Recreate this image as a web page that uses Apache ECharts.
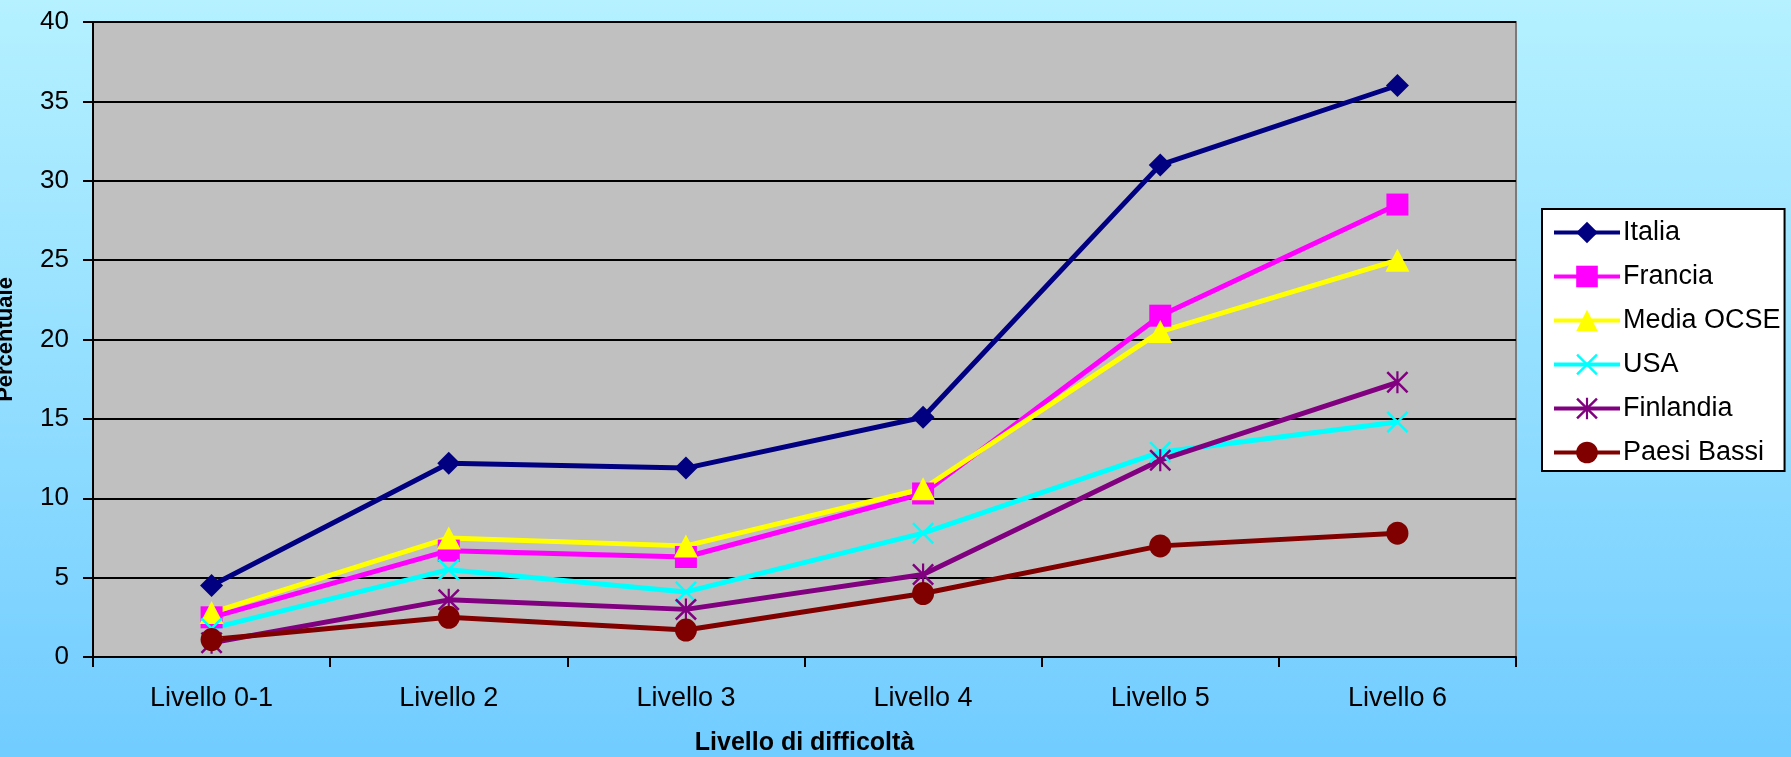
<!DOCTYPE html>
<html>
<head>
<meta charset="utf-8">
<title>Livello di difficoltà</title>
<script src="https://cdn.jsdelivr.net/npm/echarts@6/dist/echarts.min.js"></script>
<style>
  html, body { margin: 0; padding: 0; }
  #chart { width: 1791px; height: 757px; }
</style>
</head>
<body>
<div id="chart"></div>
<script>
// Categories on the x axis
const livelli = ['Livello 0-1', 'Livello 2', 'Livello 3', 'Livello 4', 'Livello 5', 'Livello 6'];

// Percentages per country
const italia      = [4.5, 12.2, 11.9, 15.1, 31.0, 36.0];
const francia     = [2.5, 6.7, 6.3, 10.3, 21.5, 28.5];
const mediaOcse   = [2.8, 7.5, 7.0, 10.6, 20.5, 25.0];
const usa         = [1.8, 5.5, 4.1, 7.8, 12.9, 14.8];
const finlandia   = [0.9, 3.6, 3.0, 5.2, 12.4, 17.3];
const paesiBassi  = [1.1, 2.5, 1.7, 4.0, 7.0, 7.8];

// Y axis range
const yMin = 0, yMax = 40, yStep = 5;

// Marker shapes: thin X and six-armed asterisk
const xPath = 'path://M0,8 L8,0 L50,42 L92,0 L100,8 L58,50 L100,92 L92,100 L50,58 L8,100 L0,92 L42,50 Z';
const starPath = 'path://M0,8 L8,0 L50,42 L92,0 L100,8 L58,50 L100,92 L92,100 L50,58 L8,100 L0,92 L42,50 Z ' +
                 'M45,0 L55,0 L55,100 L45,100 Z';

const FONT = '"Liberation Sans", Arial, sans-serif';

function makeSeries(name, data, color, symbol, size) {
  return {
    name: name,
    type: 'line',
    data: data,
    symbol: symbol,
    symbolSize: size,
    showAllSymbol: true,
    lineStyle: { color: color, width: 5 },
    itemStyle: { color: color, opacity: 1 },
    emphasis: { disabled: true },
    animation: false,
    z: 3
  };
}

const chart = echarts.init(document.getElementById('chart'), null, { renderer: 'canvas' });

chart.setOption({
  animation: false,
  backgroundColor: {
    type: 'linear', x: 0, y: 0, x2: 0, y2: 1,
    colorStops: [
      { offset: 0, color: '#B5F1FF' },
      { offset: 1, color: '#71CCFF' }
    ]
  },
  grid: {
    left: 93, top: 22, right: 275, bottom: 100,
    outerBoundsMode: 'none',
    containLabel: false,
    show: true,
    backgroundColor: '#C0C0C0',
    borderColor: '#7A7A7A',
    borderWidth: 2
  },
  legend: {
    orient: 'vertical',
    left: 1542,
    top: 209,
    backgroundColor: '#FFFFFF',
    borderColor: '#000000',
    borderWidth: 2,
    borderRadius: 0,
    padding: [10, 4, 5, 10],
    itemWidth: 66,
    itemHeight: 27,
    itemGap: 17,
    lineStyle: { width: 4 },
    textStyle: { fontFamily: FONT, fontSize: 27, color: '#000000', padding: [0, 0, 0, -2] },
    data: ['Italia', 'Francia', 'Media OCSE', 'USA', 'Finlandia', 'Paesi Bassi']
  },
  xAxis: {
    type: 'category',
    data: livelli,
    boundaryGap: true,
    name: 'Livello di difficoltà',
    nameLocation: 'middle',
    nameGap: 74,
    nameTextStyle: { fontFamily: FONT, fontSize: 25, fontWeight: 'bold', color: '#000000' },
    axisLine: { show: true, lineStyle: { color: '#000000', width: 2 } },
    axisTick: { show: true, length: 10, alignWithLabel: false, lineStyle: { color: '#000000', width: 2 } },
    axisLabel: { fontFamily: FONT, fontSize: 27, color: '#000000', margin: 28 },
    splitLine: { show: false }
  },
  yAxis: {
    type: 'value',
    min: yMin, max: yMax, interval: yStep,
    name: 'Percentuale',
    nameLocation: 'middle',
    nameRotate: 90,
    nameGap: 76,
    nameTextStyle: { fontFamily: FONT, fontSize: 22, fontWeight: 'bold', color: '#000000' },
    axisLine: { show: true, lineStyle: { color: '#000000', width: 2 } },
    axisTick: { show: true, length: 10, lineStyle: { color: '#000000', width: 2 } },
    axisLabel: { fontFamily: FONT, fontSize: 26, color: '#000000', margin: 24 },
    splitLine: { show: true, lineStyle: { color: '#000000', width: 2 } }
  },
  series: [
    makeSeries('Italia', italia, '#000080', 'diamond', [23, 23]),
    makeSeries('Francia', francia, '#FF00FF', 'rect', [22, 22]),
    makeSeries('Media OCSE', mediaOcse, '#FFFF00', 'triangle', [24, 23]),
    makeSeries('USA', usa, '#00FFFF', xPath, [22, 22]),
    makeSeries('Finlandia', finlandia, '#800080', starPath, [22, 22]),
    makeSeries('Paesi Bassi', paesiBassi, '#800000', 'circle', [22, 23])
  ]
});
</script>
</body>
</html>
